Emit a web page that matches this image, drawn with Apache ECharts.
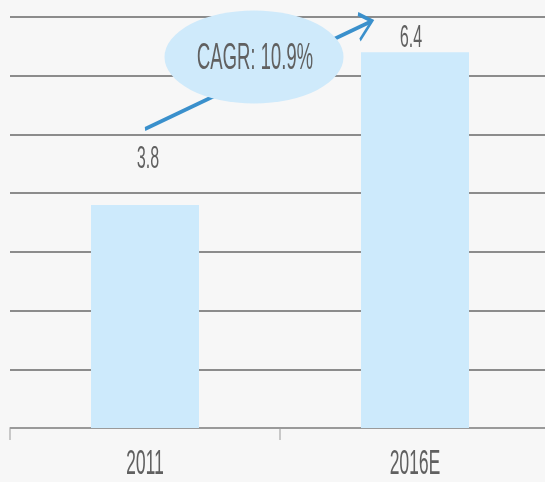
<!DOCTYPE html>
<html>
<head>
<meta charset="utf-8">
<script src="https://cdn.jsdelivr.net/npm/echarts@6/dist/echarts.min.js"></script>
<style>
  html, body { margin: 0; padding: 0; background: #f7f7f7; overflow: hidden; width: 545px; height: 482px; }
  #chart { width: 1100px; height: 482px; transform: scaleX(0.5); transform-origin: 0 0; }
</style>
</head>
<body>
<div id="chart"></div>
<script>
// ---- data ----
const categories = ['2011', '2016E'];
const values = [3.8, 6.4];
const cagrText = 'CAGR: 10.9%';
const yMin = 0, yMax = 7, yStep = 1;

// ---- layout (unscaled coordinates; the page squeezes x by SX) ----
const SX = 0.5;
const ux = x => x / SX;
const FONT = '"Liberation Sans", Arial, sans-serif';
const TEXT = '#606060';
const labelTweaks = [
  { distance: 30, offset: [ux(3), 0] },
  { distance: -2, offset: [ux(-4), 0] }
];

const chart = echarts.init(document.getElementById('chart'), null, { renderer: 'canvas' });
chart.setOption({
  backgroundColor: '#f7f7f7',
  animation: false,
  grid: { left: ux(10), width: ux(540), top: 17, bottom: 52, containLabel: false },
  xAxis: {
    type: 'category',
    data: categories,
    axisLine: { show: true, lineStyle: { color: '#9a9a9a', width: 2 } },
    axisTick: { show: true, length: 12, lineStyle: { color: '#9a9a9a', width: 2 } },
    axisLabel: { color: TEXT, fontFamily: FONT, fontSize: 35, margin: 19 }
  },
  yAxis: {
    type: 'value',
    min: yMin, max: yMax, interval: yStep,
    axisLine: { show: false },
    axisTick: { show: false },
    axisLabel: { show: false },
    splitLine: { show: true, lineStyle: { color: '#8c8c8c', width: 2 } }
  },
  series: [{
    type: 'bar',
    barWidth: ux(108),
    itemStyle: { color: '#cdeafc' },
    data: values.map((v, i) => ({
      value: v,
      label: {
        show: true, position: 'top',
        distance: labelTweaks[i].distance,
        offset: labelTweaks[i].offset,
        color: TEXT, fontFamily: FONT, fontSize: 32
      }
    })),
    z: 2
  }],
  graphic: [
    {
      type: 'polyline', z: 10,
      shape: { points: [[ux(145), 129], [ux(372), 21]] },
      style: { stroke: '#3a90cc', lineWidth: 4, fill: null }
    },
    {
      type: 'polyline', z: 10,
      shape: { points: [[ux(358), 14], [ux(372), 21], [ux(360), 40]] },
      style: { stroke: '#3a90cc', lineWidth: 4, fill: null, lineJoin: 'miter' }
    },
    {
      type: 'circle', z: 11,
      x: ux(254), y: 57,
      scaleX: 1, scaleY: 46.5 / ux(89.5),
      shape: { cx: 0, cy: 0, r: ux(89.5) },
      style: { fill: '#cfeafb' }
    },
    {
      type: 'text', z: 12,
      x: ux(255), y: 59,
      style: {
        text: cagrText, fill: TEXT,
        font: '37px ' + FONT,
        align: 'center', verticalAlign: 'middle'
      }
    }
  ]
});
</script>
</body>
</html>
